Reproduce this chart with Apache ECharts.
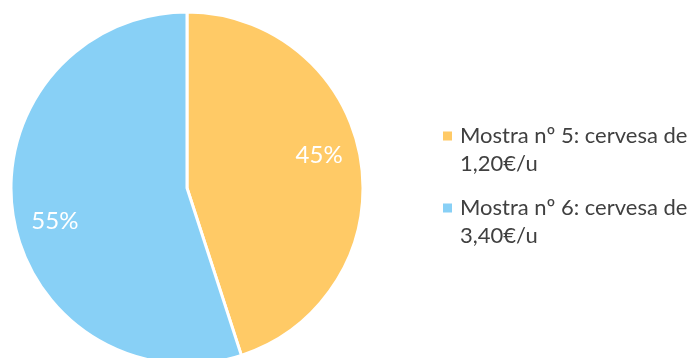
<!DOCTYPE html>
<html>
<head>
<meta charset="utf-8">
<script src="https://cdn.jsdelivr.net/npm/echarts@6/dist/echarts.min.js"></script>
<style>
  html, body { margin: 0; padding: 0; background: #ffffff; }
  #chart { width: 691px; height: 358px; }
</style>
</head>
<body>
<div id="chart"></div>
<script>
// Share of each sample
const categories = ['Mostra nº 5: cervesa de 1,20€/u', 'Mostra nº 6: cervesa de 3,40€/u'];
const legendLines = [['Mostra nº 5: cervesa de', '1,20€/u'], ['Mostra nº 6: cervesa de', '3,40€/u']];
const values = [45, 55];
const colors = ['#FFCA66', '#88D0F6'];

const CX = 187, CY = 188, R = 176;
const FONT = 'Lato, "Open Sans", sans-serif';

// Legend marker: a 9px square sitting beside the first text line;
// the zero-area segment only stretches the icon box.
const LEGEND_ICON = 'path://M0,0H9V9H0Z M0,37L12,37';

const chart = echarts.init(document.getElementById('chart'), null, { renderer: 'canvas' });

chart.setOption({
  animation: false,
  backgroundColor: '#ffffff',
  color: colors,
  legend: {
    orient: 'vertical',
    left: 438,
    top: 117,
    icon: LEGEND_ICON,
    symbolKeepAspect: false,
    itemWidth: 12,
    itemHeight: 37,
    itemGap: 16,
    itemStyle: { borderWidth: 0 },
    data: categories,
    formatter: function (name) {
      return legendLines[categories.indexOf(name)].join('\n');
    },
    textStyle: {
      fontFamily: FONT,
      fontSize: 22,
      lineHeight: 28,
      color: '#404040'
    }
  },
  series: [{
    type: 'pie',
    center: [CX, CY],
    radius: R,
    startAngle: 90,
    clockwise: true,
    data: categories.map((c, i) => ({ name: c, value: values[i] })),
    itemStyle: { borderColor: '#ffffff', borderWidth: 3 },
    label: {
      show: true,
      position: 'inside',
      formatter: '{d}%',
      color: '#ffffff',
      fontFamily: FONT,
      fontSize: 24
    },
    labelLine: { show: false },
    labelLayout: function (p) {
      const lx = p.labelRect.x + p.labelRect.width / 2;
      const ly = p.labelRect.y + p.labelRect.height / 2;
      const a = Math.atan2(ly - CY, lx - CX);
      const push = Math.sign(ly - CY) * 12;
      return {
        x: CX + Math.cos(a) * R * 0.76,
        y: CY + Math.sin(a) * R * 0.76 + push,
        align: 'center',
        verticalAlign: 'middle'
      };
    }
  }]
});
</script>
</body>
</html>
